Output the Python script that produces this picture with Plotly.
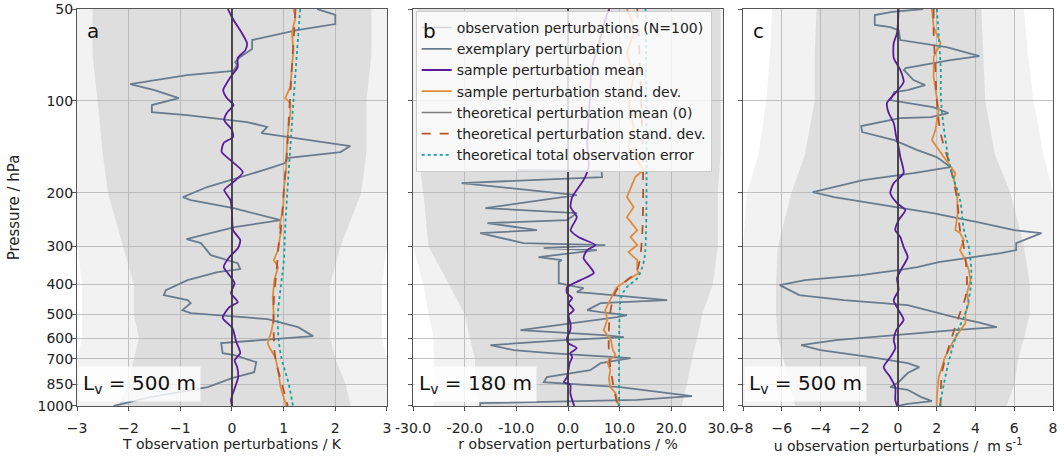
import math
import plotly.graph_objects as go

FONT = "DejaVu Sans"
P_TICKS = [50, 100, 200, 300, 400, 500, 600, 700, 850, 1000]

# ---------------- envelope of the 100 perturbations -------------
ENV_P = [50, 70, 100, 150, 200, 300, 400, 500, 600, 700, 850, 1000]
A_INNER_LO = [-2.7, -2.7, -2.6, -2.5, -2.4, -2.1, -1.9, -1.9, -1.8, -1.9, -2.0, -2.2]
A_INNER_HI = [2.7, 2.7, 2.6, 2.6, 2.5, 2.1, 1.9, 1.9, 1.9, 2.0, 2.2, 2.3]
A_OUTER_LO = [-3.0, -3.0, -3.0, -3.0, -3.0, -3.0, -2.9, -2.9, -2.9, -3.0, -3.0, -3.0]
A_OUTER_HI = [3.0, 3.0, 3.0, 3.0, 3.0, 3.0, 2.9, 2.9, 2.9, 3.0, 3.0, 3.0]
B_INNER_LO = [-29, -29, -29, -29, -28, -27, -23, -20, -19, -18, -18, -17]
B_INNER_HI = [29.5, 29.5, 29.5, 29.5, 29, 29, 28, 26, 25, 24, 23, 22]
B_OUTER_LO = [-30, -30, -30, -30, -30, -30, -28, -27, -26, -26, -26, -26]
B_OUTER_HI = [30, 30, 30, 30, 30, 30, 30, 30, 30, 30, 30, 30]
C_INNER_LO = [-4.2, -4.3, -4.3, -4.8, -5.5, -6.2, -6.3, -6.3, -6.2, -5.9, -5.6, -5.3]
C_INNER_HI = [4.3, 4.4, 4.5, 5.0, 5.8, 6.5, 6.8, 6.8, 6.5, 6.2, 6.0, 5.6]
C_OUTER_LO = [-6.5, -6.6, -6.8, -7.2, -7.8, -8, -8, -8, -8, -8, -8, -8]
C_OUTER_HI = [6.5, 6.7, 7.0, 7.5, 8, 8, 8, 8, 8, 8, 8, 8]

# ---------------- panel a: temperature ----------------
A_EX_P = [50, 52.3, 56.0, 58.6, 63.2, 67.6, 71.8, 74.6, 76.3, 79.8, 82.3, 88.1, 92.2, 97.9,
          103.2, 108.8, 111.3, 117.3, 121.8, 127.5, 140.6, 147.2, 154.0, 159.9, 168.6, 177.7,
          191.6, 206.7, 211.4, 224.6, 245.9, 259.3, 283.9, 292.6, 320.3, 340.3, 356.0, 364.2,
          386.9, 417.2, 433.2, 449.9, 460.2, 485.2, 496.2, 519.2, 551.5, 590.3, 622.4, 671.2,
          681.4, 718.5, 774.8, 810.6, 867.5, 935.7, 1000]
A_EX_V = [1.65, 2.0, 2.0, 1.26, 0.39, 0.39, 0.16, 0.06, 0.1, 0.03, -0.87, -1.97, -1.5, -1.03,
          -1.55, -1.55, -0.87, 0.29, 0.68, 0.57, 2.29, 2.1, 1.06, 1.03, 0.61, 0.16,
          -0.48, -0.95, -0.8, 0.03, 0.94, 0.05, -0.88, -0.6, -0.41, 0.11, 0.16, -0.28,
          -0.86, -1.28, -1.32, -0.86, -0.8, -0.96, -0.8, 0.69, 1.28, 1.57, -0.21, -0.18,
          0.05, 0.47, 0.43, 0.0, -0.47, -1.58, -2.29]
A_MEAN_P = [50, 54.3, 59.9, 64.6, 68.2, 72.4, 77.5, 83.6, 92.2, 97.9, 103.2, 109.6, 115.6, 124.6,
            131.4, 137.4, 147.2, 156.4, 171.2, 184.4, 196, 211.4, 233.2, 265.2, 286, 303, 325,
            350.7, 367, 395.8, 426.6, 456.8, 474, 514, 556, 615, 671, 707.6, 745, 804, 867.5,
            955, 1000]
A_MEAN_V = [-0.08, 0.03, 0.19, 0.29, 0.26, 0.11, 0.11, -0.03, -0.17, -0.1, 0.03, -0.1, -0.15, 0.0,
            0.02, -0.16, -0.2, -0.03, 0.21, 0.03, -0.15, -0.03, 0.0, 0.02, 0.16, 0.12, -0.05,
            -0.16, -0.08, 0.05, -0.02, 0.11, -0.05, -0.18, 0.01, 0.08, 0.16, 0.05, 0.1, 0.12, 0.06,
            -0.02, 0.0]
A_STD_P = [50, 53.1, 59.9, 68.2, 77.5, 90.0, 97.9, 101.7, 109.6, 127.5, 145, 165.5, 191.6, 222.9,
           259.3, 265.2, 308.4, 332.6, 350.7, 386.9, 439.8, 511.4, 564.2, 622.4, 646, 692, 763.1,
           867.5, 935.7, 1000]
A_STD_V = [1.19, 1.23, 1.16, 1.19, 1.16, 1.13, 1.03, 1.13, 1.13, 1.08, 1.06, 1.05, 1.01, 0.99,
           0.92, 0.95, 0.89, 0.81, 0.89, 0.82, 0.79, 0.81, 0.77, 0.69, 0.73, 0.84, 0.89,
           0.94, 1.0, 1.05]
A_TSTD_P = [50, 100, 150, 200, 250, 300, 350, 450, 600, 700, 850, 1000]
A_TSTD_V = [1.23, 1.12, 1.06, 1.0, 0.96, 0.9, 0.87, 0.81, 0.81, 0.84, 0.97, 1.08]
A_TOT_P = [50, 100, 150, 200, 260, 340, 400, 500, 600, 700, 760, 850, 1000]
A_TOT_V = [1.32, 1.19, 1.12, 1.07, 1.03, 1.0, 0.95, 0.89, 0.9, 0.96, 1.02, 1.1, 1.18]

# ---------------- panel b: relative humidity ----------------
B_EX_P = [168.6, 169.9, 177.7, 186.0, 203.6, 224.6, 233.3, 245.9, 251.5, 265.2, 271.3, 292.6,
          296.9, 303.8, 308.4, 325.2, 332.6, 337.6, 395.8, 410.9, 423.4, 426.6, 449.9, 460.2,
          485.2, 492.5, 503.8, 511.4, 564.2, 586, 594.8, 608.4, 632, 656.1, 671.2, 697, 723.9,
          763.1, 804.6, 835.6, 867.5, 901, 928.8, 955, 979, 1000]
B_EX_V = [-9.9, 6.5, 6.6, -20.6, 1.7, -16, 1.7, -0.2, -15.6, -6, -17, -8.6,
          7.2, -4.7, 5.6, -5.7, -1.2, -1.8, -1.8, 3.0, 1.7, 4.3, 19.2, 6.3,
          3.7, 6.3, 11.4, 9.5, -9.2, 6.9, 10.8, -0.8, -15, -10.5, -3.4, 12.1, 6.3,
          4.3, -4.1, -4.7, 10.1, 17.9, 24, 13.4, -17, -17]
B_MEAN_P = [50, 52.3, 59.9, 68.2, 79.2, 94.3, 113, 137.4, 164.8, 181.8, 206.7, 222.9, 240.4,
            265.2, 279.5, 296.9, 308.4, 327.6, 350.7, 366.8, 386.9, 407.8, 426.6, 443, 460.2,
            485.2, 503.8, 535, 564.2, 599, 622.4, 646, 671.2, 692, 723.9, 804.6, 835.6, 852,
            907.9, 955, 1000]
B_MEAN_V = [8.0, 7.5, 6.5, 5.6, 4.5, 4.3, 4.0, 3.7, 4.0, 3.0, 0.8, 0.5, 1.7,
            0.5, 2.0, 5.3, 3.7, 3.0, 4.3, 5.0, 2.4, -0.2, -0.2, 0.8, 0.1,
            1.1, 0.1, 0.45, 0.45, -0.2, 0.0, 1.7, 0.45, 0.8, 0.3, -0.2, -0.8, 0.45,
            0.45, 0.8, 1.2]
B_STD_P = [50, 54.3, 59.9, 69.7, 83.6, 99.4, 121.8, 141.7, 168.6, 177.7, 206.7, 222.9, 240.4,
           265.2, 279.5, 296.9, 313.1, 332.6, 358, 366.8, 386.9, 407.8, 426.6, 449.9, 485.2,
           522, 564.2, 608.4, 656.1, 681.4, 718.5, 763.1, 810.6, 867.5, 907.9, 955, 1000]
B_STD_V = [11.4, 12.3, 12.7, 11.4, 12.7, 11.7, 12.7, 11.7, 14.6, 13.0, 11.4, 12.7, 11.4,
           13.4, 12.1, 13.4, 11.7, 13.4, 13.4, 13.7, 11.4, 9.5, 8.8, 8.2, 7.2,
           7.6, 6.9, 8.3, 8.7, 9.2, 7.6, 8.2, 7.9, 8.2, 9.2, 9.5, 9.8]
B_TSTD_P = [50, 358, 387, 417, 460, 564, 724, 1000]
B_TSTD_V = [13.4, 13.4, 11.4, 9.4, 8.5, 7.9, 8.1, 9.6]
B_TOT_P = [50, 300, 340, 381, 408, 440, 496, 1000]
B_TOT_V = [15.0, 15.0, 14.6, 13.4, 11.4, 10.3, 10.0, 9.9]

# ---------------- panel c: zonal wind ----------------
C_EX_P = [50, 51.1, 52.3, 56.4, 57.3, 58.6, 63.2, 66.6, 71.3, 73.5, 78.1, 79.2, 85.5, 88.8, 92.2,
          93.6, 99.4, 104.8, 109.6, 113, 113.9, 120.9, 126.6, 134.4, 145, 152.8, 164.8, 172.5,
          181.8, 199, 206.7, 216.3, 233.3, 249.7, 265.2, 271.3, 292.6, 308.4, 315.5, 337.6,
          350.8, 358, 372.5, 386.9, 401.7, 433.2, 449.9, 467.2, 511.4, 531, 551.5, 564.2, 586,
          608.4, 632, 656.1, 692, 723.9, 746, 780, 835.6, 867.5, 885, 935.7, 964.5, 985, 1000]
C_EX_V = [1.3, -0.3, -1.2, -1.2, -0.4, 0.03, 0.12, 2.5, 4.2, 2.7, 0.4, 0.3, 0.8, 1.4, 0.5,
          -0.2, -0.4, 1.8, 2.6, 1.7, 0.1, -1.9, -1.85, -0.2, 1.0, 2.0, 2.7, 0.8,
          -1.8, -4.4, -3.3, -1.3, 1.8, 4.1, 6.0, 7.4, 6.1, 6.1, 5.3, 2.1,
          1.0, 0.1, -1.9, -4.8, -6.1, -5.1, -2.8, 0.5, 2.9, 4.1, 5.1, 2.9, 0.0,
          -3.2, -5.0, -4.0, -1.4, 0.5, 1.1, 0.5, 0.03, -0.4, 0.5, 1.2, 1.75, 0.5, 0.0]
C_MEAN_P = [50, 59.9, 64.6, 72.4, 79.2, 86.8, 94.3, 101.6, 109.6, 118.2, 131.4, 141.7, 152.8,
            172.5, 186, 200.6, 216.3, 228, 245.9, 265.2, 279.5, 301.5, 325.2, 353.4, 381, 417.2,
            449.9, 485.2, 522, 564.2, 608.4, 646, 692, 746, 804.6, 867.5, 955, 1000]
C_MEAN_V = [0.03, -0.05, -0.22, -0.22, 0.12, 0.29, -0.14, -0.57, -0.48, -0.22, -0.09, 0.03, 0.12,
            0.29, -0.22, -0.4, -0.05, 0.38, 0.03, -0.14, 0.12, 0.29, 0.5, 0.2, -0.05, 0.03,
            -0.22, 0.03, 0.29, -0.09, -0.22, -0.14, -0.4, -0.74, -0.4, -0.14, -0.14, -0.05]
C_STD_P = [50, 57.3, 64.6, 71.8, 83.6, 97.2, 107.2, 124.6, 134.4, 141.7, 152.8, 164.8, 172.5,
           181.8, 200.6, 233.3, 265.2, 271.3, 286, 308.4, 332.6, 358, 386.9, 426.6, 460.2, 496.2,
           535, 564.2, 608.4, 656.1, 697, 746, 804.6, 867.5, 935.7, 1000]
C_STD_V = [1.75, 1.84, 2.2, 1.84, 1.84, 2.0, 2.1, 1.93, 1.75, 2.0, 2.36, 2.7, 2.96,
           2.88, 3.05, 3.08, 2.96, 3.2, 3.4, 3.2, 3.48, 3.65, 3.74, 3.56, 3.65, 3.48,
           3.48, 3.22, 2.88, 2.62, 2.4, 2.27, 2.1, 2.05, 2.0, 2.0]
C_TSTD_P = [50, 60, 77.5, 99.4, 127.5, 165, 211, 265, 301.5, 387, 440, 496, 564, 671, 780, 1000]
C_TSTD_V = [1.84, 1.84, 1.93, 2.0, 2.2, 2.7, 3.05, 3.2, 3.4, 3.56, 3.48, 3.2, 2.9, 2.53, 2.27, 2.2]
C_TOT_P = [50, 77.5, 99.4, 127.5, 165, 211, 265, 301.5, 387, 496, 564, 724, 1000]
C_TOT_V = [2.0, 2.2, 2.22, 2.4, 2.7, 3.2, 3.4, 3.65, 3.78, 3.48, 3.1, 2.6, 2.15]

# ---------------- labels ----------------
LEGEND_NAMES = ["observation perturbations (N=100)", "exemplary perturbation",
                "sample perturbation mean", "sample perturbation stand. dev.",
                "theoretical perturbation mean (0)", "theoretical perturbation stand. dev.",
                "theoretical total observation error"]
PANEL_LETTERS = ["a", "b", "c"]
LV_TEXT = ["L<sub>v</sub> = 500 m", "L<sub>v</sub> = 180 m", "L<sub>v</sub> = 500 m"]
X_TITLES = ["T observation perturbations / K", "r observation perturbations / %",
            "u observation perturbations /  m s<sup>-1</sup>"]
X_RANGES = [[-3, 3], [-30, 30], [-8, 8]]
X_TICKS = [[-3, -2, -1, 0, 1, 2, 3], [-30, -20, -10, 0, 10, 20, 30], [-8, -6, -4, -2, 0, 2, 4, 6, 8]]
X_TICKTEXT_B = ["-30.0", "-20.0", "-10.0", "0.0", "10.0", "20.0", "30.0"]

C_EX = "#6a7b8e"
C_MEAN = "#5a1a9e"
C_STD = "#e08c3e"
C_TMEAN = "#7f7f7f"
C_TSTD = "#b5542b"
C_TOT = "#1a9e9e"

panels = [
    dict(inner=(A_INNER_LO, A_INNER_HI), outer=(A_OUTER_LO, A_OUTER_HI),
         ex=(A_EX_P, A_EX_V), mean=(A_MEAN_P, A_MEAN_V), std=(A_STD_P, A_STD_V),
         tstd=(A_TSTD_P, A_TSTD_V), tot=(A_TOT_P, A_TOT_V)),
    dict(inner=(B_INNER_LO, B_INNER_HI), outer=(B_OUTER_LO, B_OUTER_HI),
         ex=(B_EX_P, B_EX_V), mean=(B_MEAN_P, B_MEAN_V), std=(B_STD_P, B_STD_V),
         tstd=(B_TSTD_P, B_TSTD_V), tot=(B_TOT_P, B_TOT_V)),
    dict(inner=(C_INNER_LO, C_INNER_HI), outer=(C_OUTER_LO, C_OUTER_HI),
         ex=(C_EX_P, C_EX_V), mean=(C_MEAN_P, C_MEAN_V), std=(C_STD_P, C_STD_V),
         tstd=(C_TSTD_P, C_TSTD_V), tot=(C_TOT_P, C_TOT_V)),
]

fig = go.Figure()
domains = [[0.0, 0.3176], [0.3443, 0.6619], [0.6824, 1.0]]

for i, pd_ in enumerate(panels):
    xa = "x" if i == 0 else f"x{i+1}"
    ya = "y" if i == 0 else f"y{i+1}"
    leg = (i == 1)
    for key, col in (("outer", "rgba(175,175,175,0.16)"), ("inner", "rgba(175,175,175,0.30)")):
        lo, hi = pd_[key]
        fig.add_trace(go.Scatter(x=list(lo) + list(hi)[::-1], y=ENV_P + ENV_P[::-1],
                                 fill="toself", fillcolor=col, line=dict(width=0),
                                 mode="lines", hoverinfo="skip", showlegend=False,
                                 xaxis=xa, yaxis=ya))
    # legend proxy for the perturbation ensemble
    fig.add_trace(go.Scatter(x=[None], y=[None], mode="lines", name=LEGEND_NAMES[0],
                             line=dict(color="rgba(205,205,205,0.8)", width=1.5),
                             showlegend=leg, xaxis=xa, yaxis=ya))
    fig.add_trace(go.Scatter(x=pd_["ex"][1], y=pd_["ex"][0], mode="lines", name=LEGEND_NAMES[1],
                             line=dict(color=C_EX, width=1.8), showlegend=leg, xaxis=xa, yaxis=ya))
    fig.add_trace(go.Scatter(x=pd_["mean"][1], y=pd_["mean"][0], mode="lines", name=LEGEND_NAMES[2],
                             line=dict(color=C_MEAN, width=1.8, shape="spline", smoothing=0.6),
                             showlegend=leg, xaxis=xa, yaxis=ya))
    fig.add_trace(go.Scatter(x=pd_["std"][1], y=pd_["std"][0], mode="lines", name=LEGEND_NAMES[3],
                             line=dict(color=C_STD, width=1.8), showlegend=leg, xaxis=xa, yaxis=ya))
    fig.add_trace(go.Scatter(x=[0, 0], y=[50, 1000], mode="lines", name=LEGEND_NAMES[4],
                             line=dict(color=C_TMEAN, width=1.5), showlegend=leg,
                             xaxis=xa, yaxis=ya))
    fig.add_trace(go.Scatter(x=[0, 0], y=[50, 1000], mode="lines", showlegend=False,
                             line=dict(color="#1a1a1a", width=1.2), xaxis=xa, yaxis=ya))
    fig.add_trace(go.Scatter(x=pd_["tstd"][1], y=pd_["tstd"][0], mode="lines", name=LEGEND_NAMES[5],
                             line=dict(color=C_TSTD, width=1.8, dash="dash", shape="spline"),
                             showlegend=leg, xaxis=xa, yaxis=ya))
    fig.add_trace(go.Scatter(x=pd_["tot"][1], y=pd_["tot"][0], mode="lines", name=LEGEND_NAMES[6],
                             line=dict(color=C_TOT, width=1.8, dash="dot", shape="spline"),
                             showlegend=leg, xaxis=xa, yaxis=ya))

axis_common = dict(showline=True, linecolor="#555555", linewidth=1, mirror=True,
                   ticks="outside", ticklen=4, tickcolor="#555555", automargin=False,
                   showgrid=True, gridcolor="#c4c4c4", gridwidth=1, zeroline=False)

layout = dict(width=1064, height=459, margin=dict(l=77, r=11, t=9, b=53),
              plot_bgcolor="white", paper_bgcolor="white",
              font=dict(family=FONT, size=14, color="#222222"),
              showlegend=True,
              legend=dict(x=0.347, y=0.995, xanchor="left", yanchor="top",
                          bgcolor="rgba(255,255,255,0.8)", bordercolor="#cccccc", borderwidth=1,
                          font=dict(family=FONT, size=14, color="#222222"),
                          itemwidth=30, tracegroupgap=0))

for i in range(3):
    xk = "xaxis" if i == 0 else f"xaxis{i+1}"
    yk = "yaxis" if i == 0 else f"yaxis{i+1}"
    xa = dict(axis_common, domain=domains[i], range=X_RANGES[i], tickvals=X_TICKS[i],
              anchor="y" if i == 0 else f"y{i+1}", ticklabelstandoff=5,
              tickfont=dict(family=FONT, size=14, color="#222222"),
              title=dict(text=X_TITLES[i], font=dict(family=FONT, size=14), standoff=4))
    if i == 1:
        xa["ticktext"] = X_TICKTEXT_B
    layout[xk] = xa
    ya = dict(axis_common, type="log",
              range=[math.log10(1000) + 1e-4, math.log10(50) - 1e-4],
              tickvals=P_TICKS, ticktext=[str(p) for p in P_TICKS],
              tickfont=dict(family=FONT, size=14, color="#222222"),
              anchor="x" if i == 0 else f"x{i+1}", showticklabels=(i == 0))
    if i == 0:
        ya["ticklabelstandoff"] = -4
        ya["title"] = dict(text="Pressure / hPa", font=dict(family=FONT, size=15), standoff=14)
    layout[yk] = ya

annotations = []
for i in range(3):
    xr = "x domain" if i == 0 else f"x{i+1} domain"
    yr = "y domain" if i == 0 else f"y{i+1} domain"
    annotations.append(dict(text=PANEL_LETTERS[i], xref=xr, yref=yr, x=0.025, y=0.945,
                            xanchor="left", yanchor="middle", showarrow=False,
                            font=dict(family=FONT, size=20, color="#111111")))
    annotations.append(dict(text=LV_TEXT[i], xref=xr, yref=yr, x=0.0, y=0.0,
                            xanchor="left", yanchor="bottom", yshift=4, xshift=1,
                            showarrow=False, bgcolor="rgba(255,255,255,0.8)", borderpad=4,
                            font=dict(family=FONT, size=20, color="#111111")))
layout["annotations"] = annotations
fig.update_layout(**layout)
fig.write_html("out.html", config={"displayModeBar": False},
               post_script="document.body.style.margin='0';document.body.style.overflow='hidden';")
